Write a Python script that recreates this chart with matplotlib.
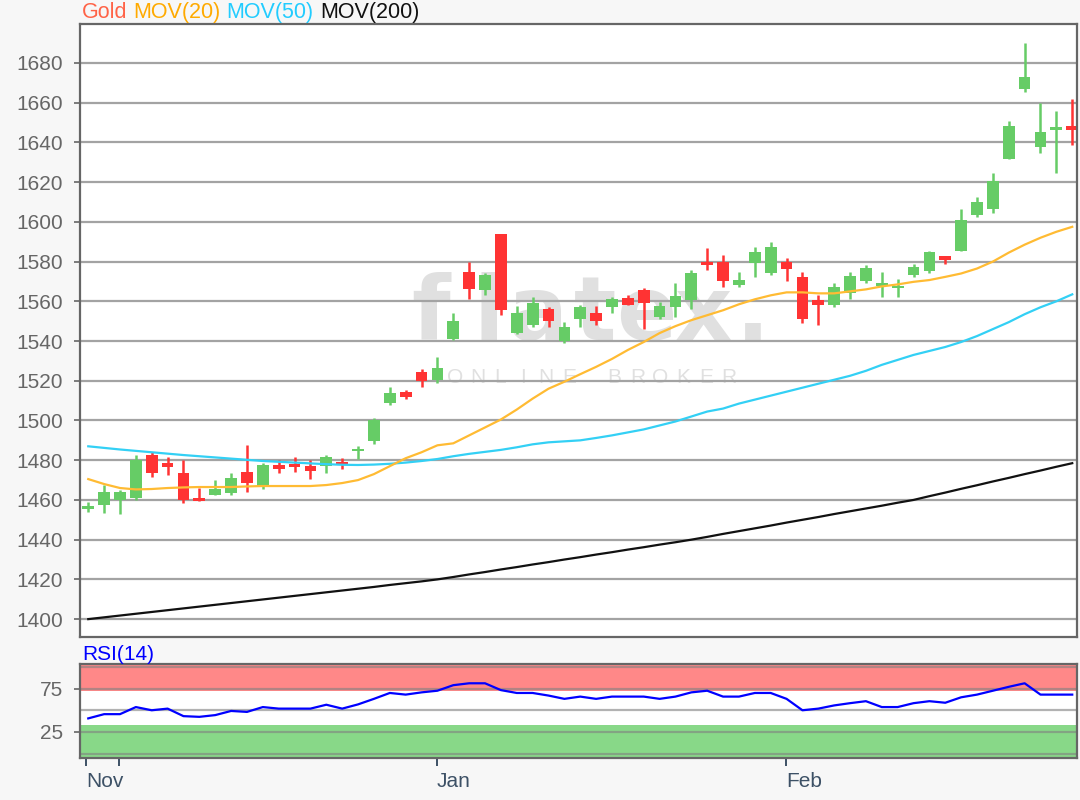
import matplotlib
matplotlib.use("Agg")
import matplotlib.pyplot as plt
import numpy as np

plt.rcParams["font.family"] = ["Liberation Sans", "DejaVu Sans"]

# daily candles
opens = [1455.5, 1457.5, 1460, 1461, 1482.5, 1478.5, 1473.5, 1461, 1462.5, 1463.5,
         1474, 1466.7, 1477.5, 1478, 1477, 1477.3, 1479.3, 1484.4, 1489.5, 1508.7,
         1514.5, 1524.5, 1520.4, 1541, 1575, 1565.5, 1594, 1544.2, 1548, 1556,
         1540.2, 1551, 1554, 1557.3, 1561.8, 1565.7, 1552, 1557.3, 1560.7, 1580,
         1580, 1568.2, 1579.4, 1574.4, 1580, 1572, 1560.7, 1558.1, 1564.3, 1570.4,
         1567.7, 1566.5, 1573.3, 1575.4, 1582.8, 1585.5, 1603.5, 1606.3, 1631.5, 1666.8,
         1637.6, 1646, 1648.3]
highs = [1459, 1467.5, 1465, 1482.5, 1484, 1481.5, 1480, 1466, 1470, 1473.5,
         1487.5, 1478.5, 1480, 1481.5, 1480, 1482.5, 1481, 1487, 1501, 1517,
         1515.3, 1526, 1531.8, 1554, 1580, 1574, 1594, 1557.5, 1562, 1557,
         1549.8, 1558, 1557.5, 1562.3, 1563, 1566.5, 1559.8, 1569, 1575.8, 1587,
         1583.3, 1575, 1587.2, 1590, 1582, 1575, 1563.2, 1569, 1575, 1578.3,
         1575, 1571, 1579, 1585.5, 1583, 1606.3, 1612.4, 1624.5, 1651, 1690,
         1660, 1656, 1661.7]
lows = [1454, 1453.5, 1453, 1460, 1471.5, 1472.5, 1458.5, 1459.5, 1462.5, 1462.5,
        1464, 1465.5, 1473.5, 1474, 1470.5, 1473.5, 1475.5, 1480.5, 1488, 1508,
        1510.8, 1517, 1518.7, 1540.5, 1561, 1563, 1553, 1543.5, 1547, 1547,
        1539, 1547, 1548, 1554, 1558, 1546, 1551, 1552, 1556, 1576,
        1567.4, 1567.4, 1572.4, 1573.3, 1570.4, 1549, 1548, 1557.3, 1561, 1569.4,
        1562.3, 1562.3, 1572, 1574, 1579, 1585.5, 1602.3, 1604.3, 1631.5, 1665.5,
        1634.5, 1624.5, 1638.7]
closes = [1457, 1464, 1464, 1480, 1473.5, 1476.5, 1460, 1459.5, 1465.5, 1471,
          1468.5, 1477.5, 1475.5, 1476.5, 1474.5, 1481.5, 1477.6, 1485.5, 1500, 1513.7,
          1512, 1520, 1526.6, 1550, 1566, 1573.3, 1555.5, 1554, 1559, 1550,
          1546.9, 1557, 1550, 1561, 1558.1, 1559.3, 1557.6, 1562.7, 1574, 1578.3,
          1570.2, 1570.7, 1585, 1587.2, 1576.3, 1551, 1558.1, 1567, 1572.7, 1577,
          1569, 1567.7, 1577.1, 1585, 1580.8, 1601, 1610.2, 1620.7, 1648.3, 1672.8,
          1645.4, 1647.6, 1646]

mov20 = [1470.5, 1468, 1466, 1465.3, 1465.5, 1466, 1466.3, 1466.5, 1466.5, 1466.5,
         1466.8, 1467, 1467, 1467, 1467, 1467.5, 1468.5, 1470, 1473, 1477,
         1481, 1484, 1487.5, 1488.5, 1492.5, 1496.5, 1500.5, 1505.5, 1511, 1516,
         1519.5, 1523.3, 1527, 1531, 1535.5, 1539.5, 1544, 1547.5, 1550.5, 1553,
         1555.5, 1558.5, 1561, 1563, 1564.5, 1564.5, 1564, 1564, 1565, 1566,
         1567.5, 1568.5, 1569.8, 1570.7, 1572.3, 1574, 1576.5, 1580, 1584.5, 1588.5,
         1592, 1595, 1597.5]
mov50 = [1487, 1486.2, 1485.4, 1484.7, 1484, 1483.3, 1482.6, 1482, 1481.4, 1480.8,
         1480.2, 1479.6, 1479.2, 1478.8, 1478.4, 1478, 1477.7, 1477.6, 1477.8, 1478.2,
         1478.8, 1479.6, 1480.6, 1482, 1483.2, 1484.2, 1485.2, 1486.5, 1488, 1489,
         1489.5, 1490, 1491.2, 1492.5, 1494, 1495.5, 1497.5, 1499.5, 1502, 1504.5,
         1506, 1508.5, 1510.5, 1512.5, 1514.5, 1516.5, 1518.5, 1520.5, 1522.5, 1525,
         1528, 1530.5, 1533, 1535, 1537, 1539.5, 1542.5, 1546, 1549.5, 1553.5,
         1557, 1560, 1563.5]
mov200 = [1400, 1400.9, 1401.8, 1402.7, 1403.6, 1404.5, 1405.4, 1406.3, 1407.2, 1408.1,
          1409, 1409.9, 1410.8, 1411.7, 1412.6, 1413.5, 1414.4, 1415.3, 1416.2, 1417.2,
          1418.1, 1419, 1420, 1421.2, 1422.5, 1423.7, 1425, 1426.2, 1427.5, 1428.7,
          1430, 1431.2, 1432.5, 1433.7, 1435, 1436.2, 1437.5, 1438.7, 1440, 1441.4,
          1442.9, 1444.3, 1445.7, 1447.1, 1448.6, 1450, 1451.4, 1452.9, 1454.3, 1455.7,
          1457.1, 1458.6, 1460, 1461.9, 1463.7, 1465.6, 1467.4, 1469.3, 1471.1, 1473,
          1474.8, 1476.7, 1478.5]
rsi14 = [40.6, 45.5, 45.5, 53.7, 50, 51.9, 43.2, 42.4, 44.4, 49.2,
         48.1, 53.7, 51.9, 51.9, 51.9, 56.4, 51.9, 56.8, 63.2, 70,
         68.1, 70.7, 72.6, 79, 81.2, 81.2, 73.3, 70, 70, 67,
         63.2, 65.8, 63.2, 65.8, 65.8, 65.8, 63.2, 65.8, 70.7, 72.6,
         65.8, 65.8, 70, 70, 63.2, 50, 51.9, 55.6, 58.2, 60.5,
         53.7, 53.7, 58.2, 60.5, 58.7, 65, 68.1, 72.6, 77.1, 81.2,
         68.1, 68.1, 68.1]

month_ticks = [-0.15, 1.95, 21.95, 43.95]
month_labels = ["Nov", "", "Jan", "Feb"]
price_ticks = list(range(1400, 1681, 20))

GREEN = "#66cc66"
RED = "#ff3333"
GRID = "#a3a3a3"
FRAME = "#666666"
TICKTXT = "#666666"
DATETXT = "#3d5166"
WMARK = "#e0e0e0"

o = np.array(opens)
h = np.array(highs)
l = np.array(lows)
c = np.array(closes)
x = np.arange(len(o))
up = c >= o
cols = np.where(up, GREEN, RED)

fig = plt.figure(figsize=(10.8, 8), dpi=100, facecolor="#f7f7f7")
ax = fig.add_axes([80 / 1080, 163 / 800, 997 / 1080, 613 / 800])
ax2 = fig.add_axes([80 / 1080, 42 / 800, 997 / 1080, 94 / 800], sharex=ax)

# main price panel
ax.set_axisbelow(True)
ax.grid(axis="y", color=GRID, linewidth=1.6)
ax.grid(axis="x", visible=False)

# flatex watermark (letters spread out like the logo)
logo_x = [0.352, 0.410, 0.458, 0.517, 0.568, 0.625, 0.675]
for ch, px in zip("flatex.", logo_x):
    ax.text(px, 0.485, ch, transform=ax.transAxes, ha="center", va="baseline",
            fontsize=64, fontweight="bold", color=WMARK, zorder=0.3,
            family="DejaVu Sans")
for i, ch in enumerate("ONLINE BROKER"):
    ax.text(0.376 + i * 0.0229, 0.4235, ch, transform=ax.transAxes,
            ha="center", va="center", fontsize=15, color=WMARK, zorder=0.3)

ax.vlines(x, l, h, colors=cols, linewidth=1.8, zorder=2)
body_lo = np.minimum(o, c)
body_h = np.maximum(np.abs(c - o), 0.9)
ax.bar(x, body_h, bottom=body_lo, width=0.74, color=cols, linewidth=0, zorder=2.5)

ax.plot(x, mov200, color="#111111", linewidth=1.6, zorder=3)
ax.plot(x, mov50, color="#33d0f5", linewidth=1.6, zorder=3)
ax.plot(x, mov20, color="#ffbb33", linewidth=1.6, zorder=3)

ax.set_xlim(-0.52, 62.3)
ax.set_ylim(1391, 1699.6)
ax.set_yticks(price_ticks)
ax.tick_params(axis="y", direction="out", length=4, width=1.2, color=FRAME,
               labelsize=15, labelcolor=TICKTXT, pad=8)
ax.tick_params(axis="x", bottom=False, labelbottom=False)
ax.set_facecolor("white")
for s in ax.spines.values():
    s.set_color(FRAME)
    s.set_linewidth(1.6)

# legend line above the chart, all on one baseline
legend_items = [("Gold", "#ff6347"), ("MOV(20)", "#ffaa00"),
                ("MOV(50)", "#22ccff"), ("MOV(200)", "#111111")]
renderer = fig.canvas.get_renderer()
xpos = 82
for name, col in legend_items:
    t = fig.text(xpos / 1080, 1 - 18 / 800, name, color=col, fontsize=15.5,
                 va="baseline", ha="left")
    xpos += t.get_window_extent(renderer).width + 6

# RSI panel
ax2.set_facecolor("white")
ax2.axhspan(72, 110, color="#ff8888", linewidth=0, zorder=0.5)
ax2.axhspan(-10, 33, color="#88d888", linewidth=0, zorder=0.5)
for lv in [0, 25, 50, 75, 100]:
    ax2.axhline(lv, color="#808080", alpha=0.6, linewidth=1.6, zorder=1)
ax2.plot(x, rsi14, color="#0000ff", linewidth=1.6, zorder=3)
ax2.set_ylim(-5.2, 103.5)
ax2.set_yticks([25, 75])
ax2.tick_params(axis="y", direction="out", length=4, width=1.2, color=FRAME,
                labelsize=15, labelcolor=TICKTXT, pad=8)
ax2.set_xticks(month_ticks)
ax2.set_xticklabels(month_labels)
ax2.tick_params(axis="x", direction="out", length=6, width=1.4, color=DATETXT,
                labelsize=15, labelcolor=DATETXT, pad=4)
for lab in ax2.get_xticklabels():
    lab.set_horizontalalignment("left")
for s in ax2.spines.values():
    s.set_color(FRAME)
    s.set_linewidth(1.6)
fig.text(82 / 1080, 1 - 655 / 800, "RSI(14)", color="#0000ff", fontsize=15,
         va="center", ha="left")

fig.savefig("out.png", dpi=100, facecolor=fig.get_facecolor())
